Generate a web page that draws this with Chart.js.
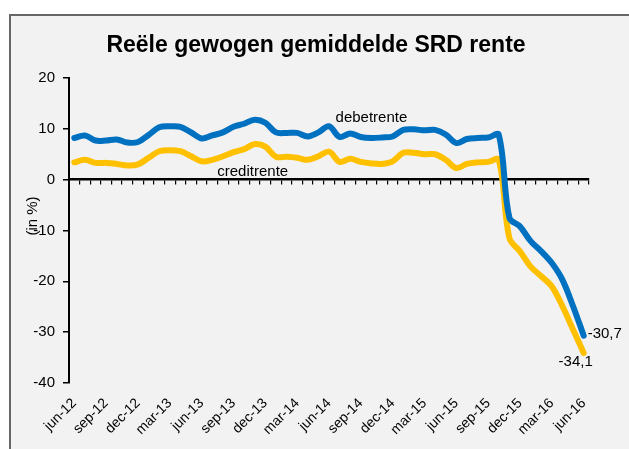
<!DOCTYPE html>
<html>
<head>
<meta charset="utf-8">
<script src="https://cdn.jsdelivr.net/npm/chart.js@4/dist/chart.umd.min.js"></script>
<style>
  html, body { margin: 0; padding: 0; background: #fff; width: 629px; height: 449px; overflow: hidden; }
  #frame { position: absolute; left: 9px; top: 14px; width: 660px; height: 480px; background: #f2f2f2; border-left: 2px solid #666; border-top: 2px solid #666; }
  #wrap { position: absolute; left: 0; top: 0; width: 629px; height: 449px; }
</style>
</head>
<body>
<div id="frame"></div>
<div id="wrap"><canvas id="c" width="629" height="449"></canvas></div>
<script>
const TITLE = 'Reële gewogen gemiddelde SRD rente';
const Y_TITLE = '(in %)';
const categories = [
  'jun-12','jul-12','aug-12','sep-12','okt-12','nov-12','dec-12','jan-13','feb-13','mar-13','apr-13','mei-13',
  'jun-13','jul-13','aug-13','sep-13','okt-13','nov-13','dec-13','jan-14','feb-14','mar-14','apr-14','mei-14',
  'jun-14','jul-14','aug-14','sep-14','okt-14','nov-14','dec-14','jan-15','feb-15','mar-15','apr-15','mei-15',
  'jun-15','jul-15','aug-15','sep-15','okt-15','nov-15','dec-15','jan-16','feb-16','mar-16','apr-16','mei-16',
  'jun-16'
];
const debetrente = [
  8.2, 8.7, 7.7, 7.7, 7.9, 7.3, 7.4, 8.8, 10.3, 10.5, 10.4, 9.3,
  8.1, 8.7, 9.3, 10.4, 11.0, 11.8, 11.2, 9.3, 9.2, 9.2, 8.5, 9.3,
  10.5, 8.4, 9.1, 8.4, 8.2, 8.3, 8.5, 9.8, 9.9, 9.7, 9.8, 8.9,
  7.2, 8.0, 8.2, 8.3, 8.8, -7.5, -9.2, -12.1, -14.1, -16.4, -19.7, -24.9,
  -30.7
];
const creditrente = [
  3.4, 3.9, 3.3, 3.3, 3.1, 2.8, 3.0, 4.3, 5.6, 5.8, 5.6, 4.6,
  3.6, 3.9, 4.6, 5.4, 6.0, 7.0, 6.5, 4.5, 4.5, 4.3, 3.9, 4.6,
  5.5, 3.5, 4.1, 3.5, 3.2, 3.1, 3.6, 5.3, 5.3, 5.0, 5.0, 3.9,
  2.3, 3.1, 3.4, 3.5, 3.9, -11.5, -14.1, -17.1, -19.0, -21.0, -24.9, -29.5,
  -34.1
];
const endLabels = ['-30,7', '-34,1'];
const seriesNames = ['debetrente', 'creditrente'];
const yTicks = { min: -40, max: 20, step: 10 };

const FONT = '"Liberation Sans", Arial, sans-serif';

const overlay = {
  id: 'overlay',
  afterDatasetsDraw(chart) {
    const { ctx, scales } = chart;
    const x = scales.x, y = scales.y;
    const n = categories.length - 1;
    ctx.save();
    ctx.fillStyle = '#000';
    // title
    ctx.font = 'bold 23px ' + FONT;
    ctx.textAlign = 'center';
    ctx.textBaseline = 'middle';
    ctx.fillText(TITLE, 316, 46);
    // series labels
    ctx.font = '15px ' + FONT;
    ctx.fillText(seriesNames[0], x.getPixelForValue(28), y.getPixelForValue(debetrente[28]) - 20);
    ctx.fillText(seriesNames[1], x.getPixelForValue(17) - 2, y.getPixelForValue(creditrente[17]) + 28);
    // end labels
    ctx.textAlign = 'left';
    ctx.fillText(endLabels[0], x.getPixelForValue(n) + 4, y.getPixelForValue(debetrente[n]) - 2);
    ctx.textAlign = 'center';
    ctx.fillText(endLabels[1], x.getPixelForValue(n) - 8, y.getPixelForValue(creditrente[n]) + 9);
    // y title
    ctx.save();
    ctx.translate(33, 216);
    ctx.rotate(-Math.PI / 2);
    ctx.fillText(Y_TITLE, 0, 0);
    ctx.restore();
    ctx.restore();
  }
};

new Chart(document.getElementById('c'), {
  type: 'line',
  data: {
    labels: categories,
    datasets: [
      { label: seriesNames[0], data: debetrente, borderColor: '#0070C0', borderWidth: 6, pointRadius: 0, tension: 0.35, borderCapStyle: 'round', borderJoinStyle: 'round', fill: false },
      { label: seriesNames[1], data: creditrente, borderColor: '#FFC000', borderWidth: 6, pointRadius: 0, tension: 0.35, borderCapStyle: 'round', borderJoinStyle: 'round', fill: false }
    ]
  },
  options: {
    responsive: false,
    animation: false,
    events: [],
    layout: { padding: { left: 9, right: 40, top: 78, bottom: 0 } },
    plugins: { legend: { display: false }, title: { display: false }, tooltip: { enabled: false } },
    scales: {
      x: {
        type: 'category',
        offset: true,
        grid: { display: false, drawTicks: false },
        border: { display: false },
        ticks: {
          autoSkip: false, minRotation: 45, maxRotation: 45, padding: 12,
          color: '#000', font: { family: FONT, size: 14 },
          callback: (v, i) => (i % 3 === 0 ? categories[i] : '')
        },
        afterFit: (s) => { s.height = 66; }
      },
      x2: {
        type: 'category',
        labels: categories,
        position: { y: 0 },
        offset: true,
        grid: { offset: true, drawOnChartArea: false, drawTicks: true, tickLength: 4, color: '#000', lineWidth: 1.2 },
        border: { display: true, color: '#000', width: 2.5 },
        ticks: { display: false, autoSkip: false }
      },
      y: {
        min: yTicks.min, max: yTicks.max,
        ticks: { stepSize: yTicks.step, padding: 8, color: '#000', font: { family: FONT, size: 15 } },
        grid: { drawOnChartArea: false, drawTicks: true, tickLength: 6, color: '#000', lineWidth: 1.5 },
        border: { display: true, color: '#000', width: 2 },
        afterFit: (s) => { s.width = 60; }
      }
    }
  },
  plugins: [overlay]
});
</script>
</body>
</html>
